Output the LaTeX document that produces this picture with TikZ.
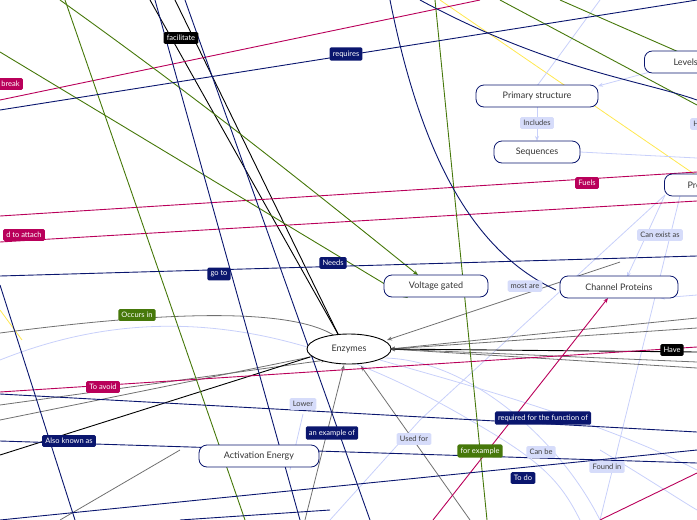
\documentclass[tikz,border=0pt]{standalone}
\usepackage{fontspec}
\setmainfont{Lato}
\usetikzlibrary{positioning,arrows.meta,shapes.geometric}
\definecolor{navyc}{RGB}{10,22,110}
\definecolor{greenc}{RGB}{70,120,10}
\definecolor{magc}{RGB}{185,0,90}
\definecolor{lavc}{RGB}{214,220,250}
\definecolor{lavline}{RGB}{200,208,250}
\definecolor{greyc}{RGB}{112,112,112}
\definecolor{yelc}{RGB}{255,232,80}
\tikzset{
  lab/.style={rounded corners=1.5pt, inner sep=3.2pt, font=\fontsize{7.5}{9}\selectfont},
  navylab/.style={lab, fill=navyc, text=white},
  greenlab/.style={lab, fill=greenc, text=white},
  maglab/.style={lab, fill=magc, text=white},
  blacklab/.style={lab, fill=black, text=white},
  lavlab/.style={lab, fill=lavc, text=black!75},
  topic/.style={draw=navyc, line width=0.8pt, rounded corners=8pt, fill=white, minimum height=22pt, font=\fontsize{9}{11}\selectfont, text=black!80},
  arr/.style={-{Stealth[length=5pt,width=4pt]}},
}
\begin{document}
\begin{tikzpicture}[x=1pt,y=-1pt]
\useasboundingbox (0,0) rectangle (697,520);
% coordinates for the free ends at the border
\coordinate (enzE) at (390,349);
\coordinate (enzT) at (338,334);
\coordinate (enzB) at (344,365);
\coordinate (vgB) at (408,298);
\coordinate (vgT) at (418,275);
% yellow
\draw[yelc, line width=0.8pt] (440,0) -- (697,176);
\draw[yelc, line width=0.8pt] (0,310) -- (22,340);
% light lines
\draw[lavline, line width=0.8pt] (537,86) -- (600,0);
\draw[lavline, line width=0.8pt, arr] (650,72) -- (598,86);
\draw[lavline, line width=0.8pt, arr] (537,107) -- (537,141);
\draw[lavline, line width=0.8pt] (580,152) -- (697,158);
\draw[lavline, line width=0.8pt, arr] (665,195) -- (627,277);
\draw[lavline, line width=0.8pt] (680,196) -- (600,520);
\draw[lavline, line width=0.8pt] (665,195) -- (420,420) -- (330,520);
\draw[lavline, line width=0.8pt, arr] (697,295) -- (660,298);
\draw[lavline, line width=0.8pt] (0,360) .. controls (150,300) and (300,320) .. (470,420) .. controls (540,460) and (560,480) .. (580,520);
\draw[lavline, line width=0.8pt] (600,520) .. controls (560,440) and (470,360) .. (385,358);
\draw[lavline, line width=0.8pt] (380,360) .. controls (450,380) and (600,420) .. (697,470);
\draw[lavline, line width=0.8pt] (303,414) -- (290,470);
\draw[lavline, line width=0.8pt] (600,450) .. controls (650,480) and (680,500) .. (697,510);
% grey
\draw[greyc, line width=0.8pt] (0,333) .. controls (100,320) and (280,300) .. (335,336);
\draw[greyc, line width=0.8pt, arr] (697,318) -- (enzE);
\draw[greyc, line width=0.8pt, arr] (697,328) -- (enzE);
\draw[greyc, line width=0.8pt, arr] (697,362) -- (enzE);
\draw[greyc, line width=0.8pt, arr] (697,368) -- (enzE);
\draw[greyc, line width=0.8pt, arr] (620,262) -- (387,340);
\draw[greyc, line width=0.8pt, arr] (0,405) -- (326,360);
\draw[greyc, line width=0.8pt, arr] (0,420) -- (320,355);
\draw[greyc, line width=0.8pt, arr] (305,520) -- (enzB);
\draw[greyc, line width=0.8pt, arr] (470,520) -- (361,366);
\draw[greyc, line width=0.8pt] (60,520) -- (180,450);
% black
\draw[black, line width=0.9pt] (150,0) -- (enzT);
\draw[black, line width=0.9pt] (175,0) -- (enzT);
\draw[black, line width=0.9pt] (enzE) -- (697,352);
\draw[black, line width=0.9pt] (0,455) -- (310,357);
% magenta
\draw[magc, line width=0.9pt] (0,100) -- (480,0);
\draw[magc, line width=0.9pt] (0,216) -- (697,172);
\draw[magc, line width=0.9pt] (0,242) -- (697,201);
\draw[magc, line width=0.9pt] (0,392) -- (697,347);
\draw[magc, line width=0.9pt, arr] (433,520) -- (608,298);
\draw[magc, line width=0.9pt] (600,520) -- (697,473);
% green
\draw[greenc, line width=0.9pt, arr] (0,52) -- (vgB);
\draw[greenc, line width=0.9pt, arr] (60,0) .. controls (200,100) and (300,180) .. (vgT);
\draw[greenc, line width=0.9pt] (65,0) -- (245,520);
\draw[greenc, line width=0.9pt] (435,0) -- (487,520);
\draw[greenc, line width=0.9pt] (500,0) -- (697,105);
\draw[greenc, line width=0.9pt] (560,0) -- (697,60);
% navy
\draw[navyc, line width=0.9pt] (0,110) -- (697,0);
\draw[navyc, line width=0.9pt] (420,0) .. controls (550,70) and (640,80) .. (697,100);
\draw[navyc, line width=0.9pt] (390,0) .. controls (420,150) and (470,250) .. (556,290);
\draw[navyc, line width=0.9pt] (0,276) -- (697,256);
\draw[navyc, line width=0.9pt] (155,0) -- (300,520);
\draw[navyc, line width=0.9pt] (185,0) -- (370,520);
\draw[navyc, line width=0.9pt] (0,285) -- (75,520);
\draw[navyc, line width=0.9pt] (0,394) -- (697,432);
\draw[navyc, line width=0.9pt] (0,441) -- (697,463);
\draw[navyc, line width=0.9pt] (0,520) -- (697,450);
\draw[navyc, line width=0.9pt] (180,520) -- (330,510);
% topics
\node[topic, minimum width=122pt] (prim) at (537,96) {Primary structure};
\node[topic, minimum width=86pt] (seq) at (537,152) {Sequences};
\node[topic, minimum width=90pt, anchor=west] (levels) at (644,62) {Levels o};
\node[topic, minimum width=60pt, anchor=west] (pro) at (664,185) {Pro};
\node[topic, minimum width=104pt] (volt) at (436,286) {Voltage gated};
\node[topic, minimum width=118pt] (chan) at (619,287) {Channel Proteins};
\node[topic, minimum width=120pt] (act) at (259,456) {Activation Energy};
\node[draw=black, line width=0.9pt, ellipse, fill=white, minimum width=84pt, minimum height=30pt, inner sep=0pt, font=\fontsize{9}{11}\selectfont, text=black!80] (enz) at (349,349) {Enzymes};
% labels
\node[blacklab] (facil) at (181,38) {facilitate};
\node[navylab] (req) at (346,54) {requires};
\node[maglab, anchor=east] (brk) at (23,84) {break};
\node[lavlab] (incl) at (537,123) {Includes};
\node[lavlab, anchor=west] (hh) at (690,124) {H};
\node[maglab] (fuels) at (587,183) {Fuels};
\node[maglab, anchor=east] (attach) at (45,235) {d to attach};
\node[lavlab] (exist) at (660,235) {Can exist as};
\node[navylab] (needs) at (333,263) {Needs};
\node[navylab] (goto) at (219,274) {go to};
\node[lavlab] (most) at (525,286) {most are};
\node[greenlab] (occ) at (137,315) {Occurs in};
\node[blacklab] (have) at (672,350) {Have};
\node[maglab] (avoid) at (103,387) {To avoid};
\node[lavlab] (lower) at (303,404) {Lower};
\node[navylab] (rfunc) at (543,418) {required for the function of};
\node[navylab] (exof) at (332,433) {an example of};
\node[navylab] (aka) at (69,441) {Also known as};
\node[lavlab] (used) at (414,439) {Used for};
\node[greenlab] (forex) at (480,451) {for example};
\node[lavlab] (canbe) at (541,452) {Can be};
\node[lavlab] (found) at (607,467) {Found in};
\node[navylab] (todo) at (523,478) {To do};
\end{tikzpicture}
\end{document}
